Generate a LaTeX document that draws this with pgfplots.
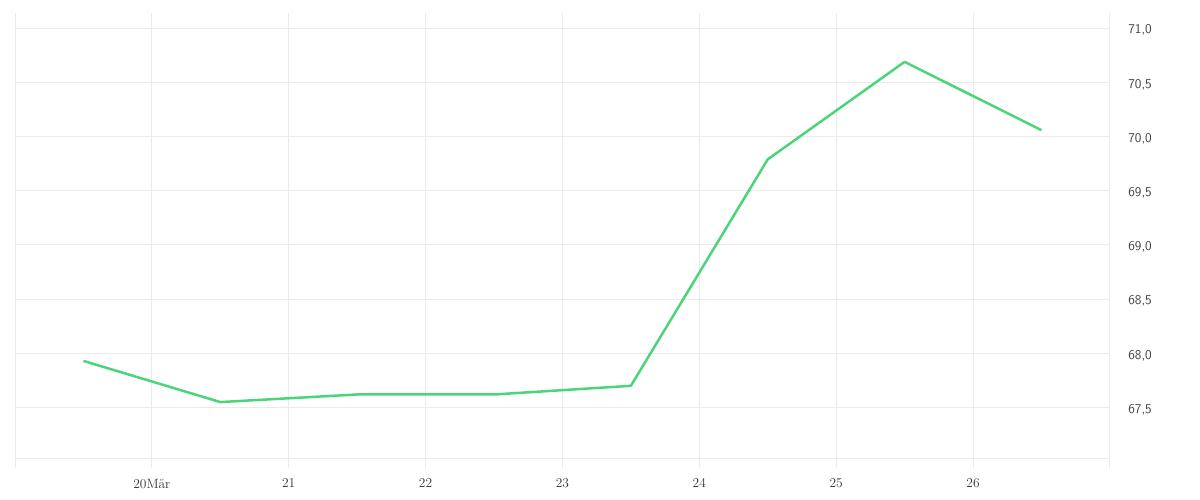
\documentclass[border=0pt]{standalone}
\usepackage{fontspec}
\usepackage{pgfplots}
\pgfplotsset{compat=1.18}
\definecolor{linegreen}{RGB}{76,212,122}
\definecolor{gridgray}{RGB}{235,235,235}
\begin{document}
\begin{tikzpicture}[x=1bp,y=1bp]
\useasboundingbox (0,0) rectangle (1200,500);
\begin{axis}[
  at={(15bp,41.7bp)}, anchor=south west,
  scale only axis, width=1095bp, height=445.6bp,
  xmin=19, xmax=27, ymin=67.031, ymax=71.144,
  axis line style={draw=none},
  xtick={19,20,21,22,23,24,25,26,27},
  xticklabels={,20Mär,21,22,23,24,25,26,},
  xtick pos=bottom,
  tick align=outside,
  major tick length=10bp,
  x tick style={color=gridgray, line width=1bp},
  ytick={67.5,68,68.5,69,69.5,70,70.5,71},
  yticklabels={{67,5},{68,0},{68,5},{69,0},{69,5},{70,0},{70,5},{71,0}},
  ytick pos=right, yticklabel pos=right,
  y tick style={draw=none},
  extra y ticks={67.031},
  extra y tick labels={},
  extra y tick style={grid=major},
  grid=major,
  major grid style={color=gridgray, line width=1bp},
  xticklabel style={font=\fontsize{13.5}{16}\selectfont, color=black!80, yshift=-7bp},
  yticklabel style={font=\fontsize{13.5}{16}\selectfont\sffamily, color=black!75, anchor=west, xshift=5bp, yshift=-2bp},
  clip=false,
]
\addplot[color=linegreen, line width=2.5bp, line join=round] coordinates {
  (19.5,67.93) (20.5,67.55) (21.5,67.62) (22.5,67.62)
  (23.5,67.70) (24.5,69.79) (25.5,70.69) (26.5,70.06)
};
\end{axis}
\end{tikzpicture}
\end{document}
